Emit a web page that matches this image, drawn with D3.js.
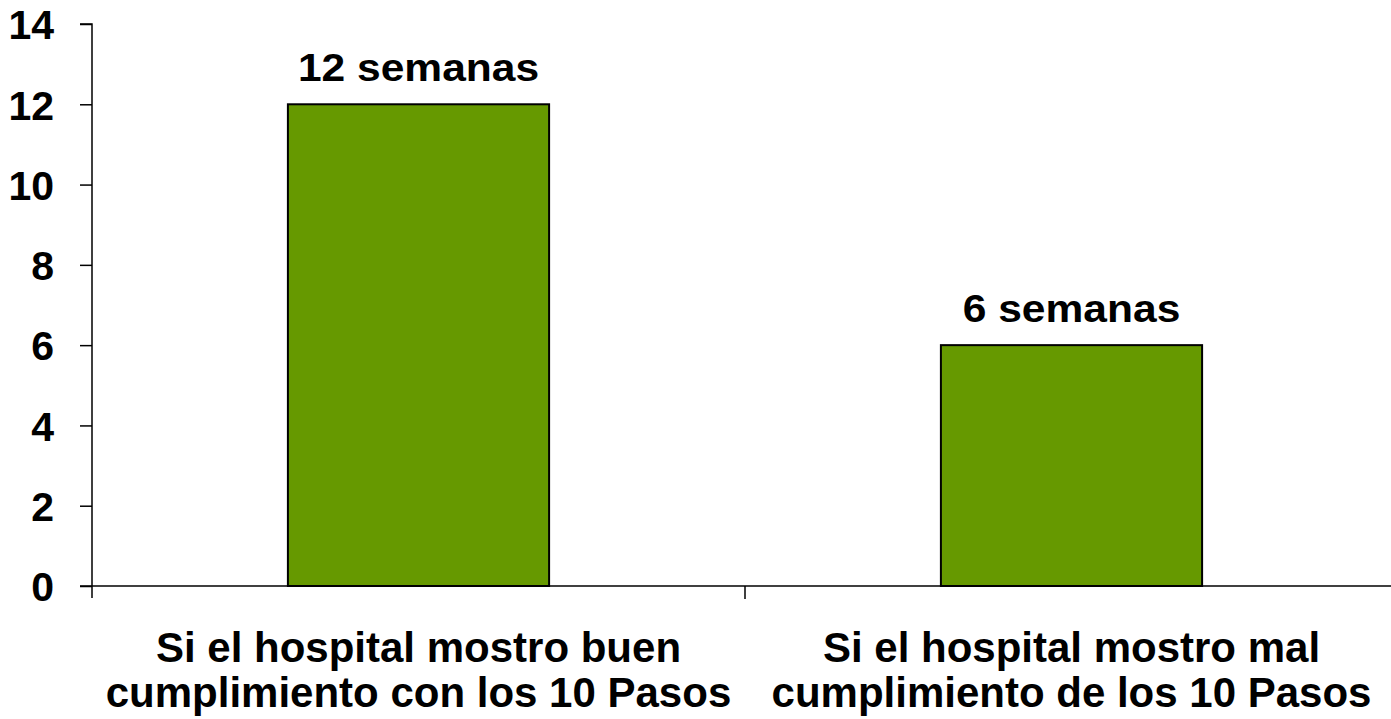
<!DOCTYPE html>
<html lang="es">
<head>
<meta charset="UTF-8">
<title>Semanas</title>
<script src="https://d3js.org/d3.v7.min.js"></script>
<style>
  body { margin: 0; background: #fff; }
  svg text { font-family: "Liberation Sans", Arial, sans-serif; font-weight: bold; fill: #000; }
</style>
</head>
<body>
<script>
const categories = [
  ["Si el hospital mostro buen", "cumplimiento con los 10 Pasos"],
  ["Si el hospital mostro mal", "cumplimiento de los 10 Pasos"]
];
const values = [12, 6];
const valueLabels = ["12 semanas", "6 semanas"];
const yTicks = [0, 2, 4, 6, 8, 10, 12, 14];

const width = 1391, height = 719;
const plotLeft = 92, plotRight = 1398, plotTop = 24, plotBottom = 586;

const svg = d3.select("body").append("svg")
  .attr("width", width)
  .attr("height", height);

const x = d3.scaleBand()
  .domain(d3.range(values.length))
  .range([plotLeft, plotRight])
  .paddingInner(0)
  .paddingOuter(0);

const y = d3.scaleLinear()
  .domain([0, 14])
  .range([plotBottom, plotTop]);

// y axis
const yAxis = svg.append("g")
  .attr("transform", `translate(${plotLeft},0)`)
  .call(d3.axisLeft(y).tickValues(yTicks).tickSize(12).tickPadding(26));
yAxis.select(".domain").attr("d", `M-12,${plotTop}H0V${plotBottom + 12}`).attr("stroke", "#000").attr("stroke-width", 1.5);
yAxis.selectAll(".tick line").attr("stroke", "#000").attr("stroke-width", 1.5);
yAxis.selectAll(".tick text").style("font-size", "41px").attr("dy", "0.36em");

// x axis baseline and separator ticks
svg.append("line")
  .attr("x1", plotLeft - 12).attr("x2", plotRight)
  .attr("y1", plotBottom).attr("y2", plotBottom)
  .attr("stroke", "#000").attr("stroke-width", 1.5);
svg.selectAll(".sep")
  .data(d3.range(1, values.length))
  .join("line")
  .attr("x1", i => x(i)).attr("x2", i => x(i))
  .attr("y1", plotBottom).attr("y2", plotBottom + 13)
  .attr("stroke", "#000").attr("stroke-width", 1.5);

// bars
const barW = x.bandwidth() * 0.4;
svg.selectAll(".bar")
  .data(values)
  .join("rect")
  .attr("x", (d, i) => x(i) + (x.bandwidth() - barW) / 2)
  .attr("y", d => y(d))
  .attr("width", barW)
  .attr("height", d => plotBottom - y(d))
  .attr("fill", "#669900")
  .attr("stroke", "#000")
  .attr("stroke-width", 2);

// value labels (slightly wide, as in the original)
svg.selectAll(".val")
  .data(values)
  .join("text")
  .attr("transform", (d, i) => `translate(${x(i) + x.bandwidth() / 2},${y(d) - 23}) scale(1.12,1)`)
  .attr("text-anchor", "middle")
  .style("font-size", "38px")
  .text((d, i) => valueLabels[i]);

// category labels
categories.forEach((lines, i) => {
  const t = svg.append("text")
    .attr("text-anchor", "middle")
    .style("font-size", "42px");
  lines.forEach((s, j) => {
    t.append("tspan")
      .attr("x", x(i) + x.bandwidth() / 2)
      .attr("y", 662 + j * 45)
      .text(s);
  });
});
</script>
</body>
</html>
